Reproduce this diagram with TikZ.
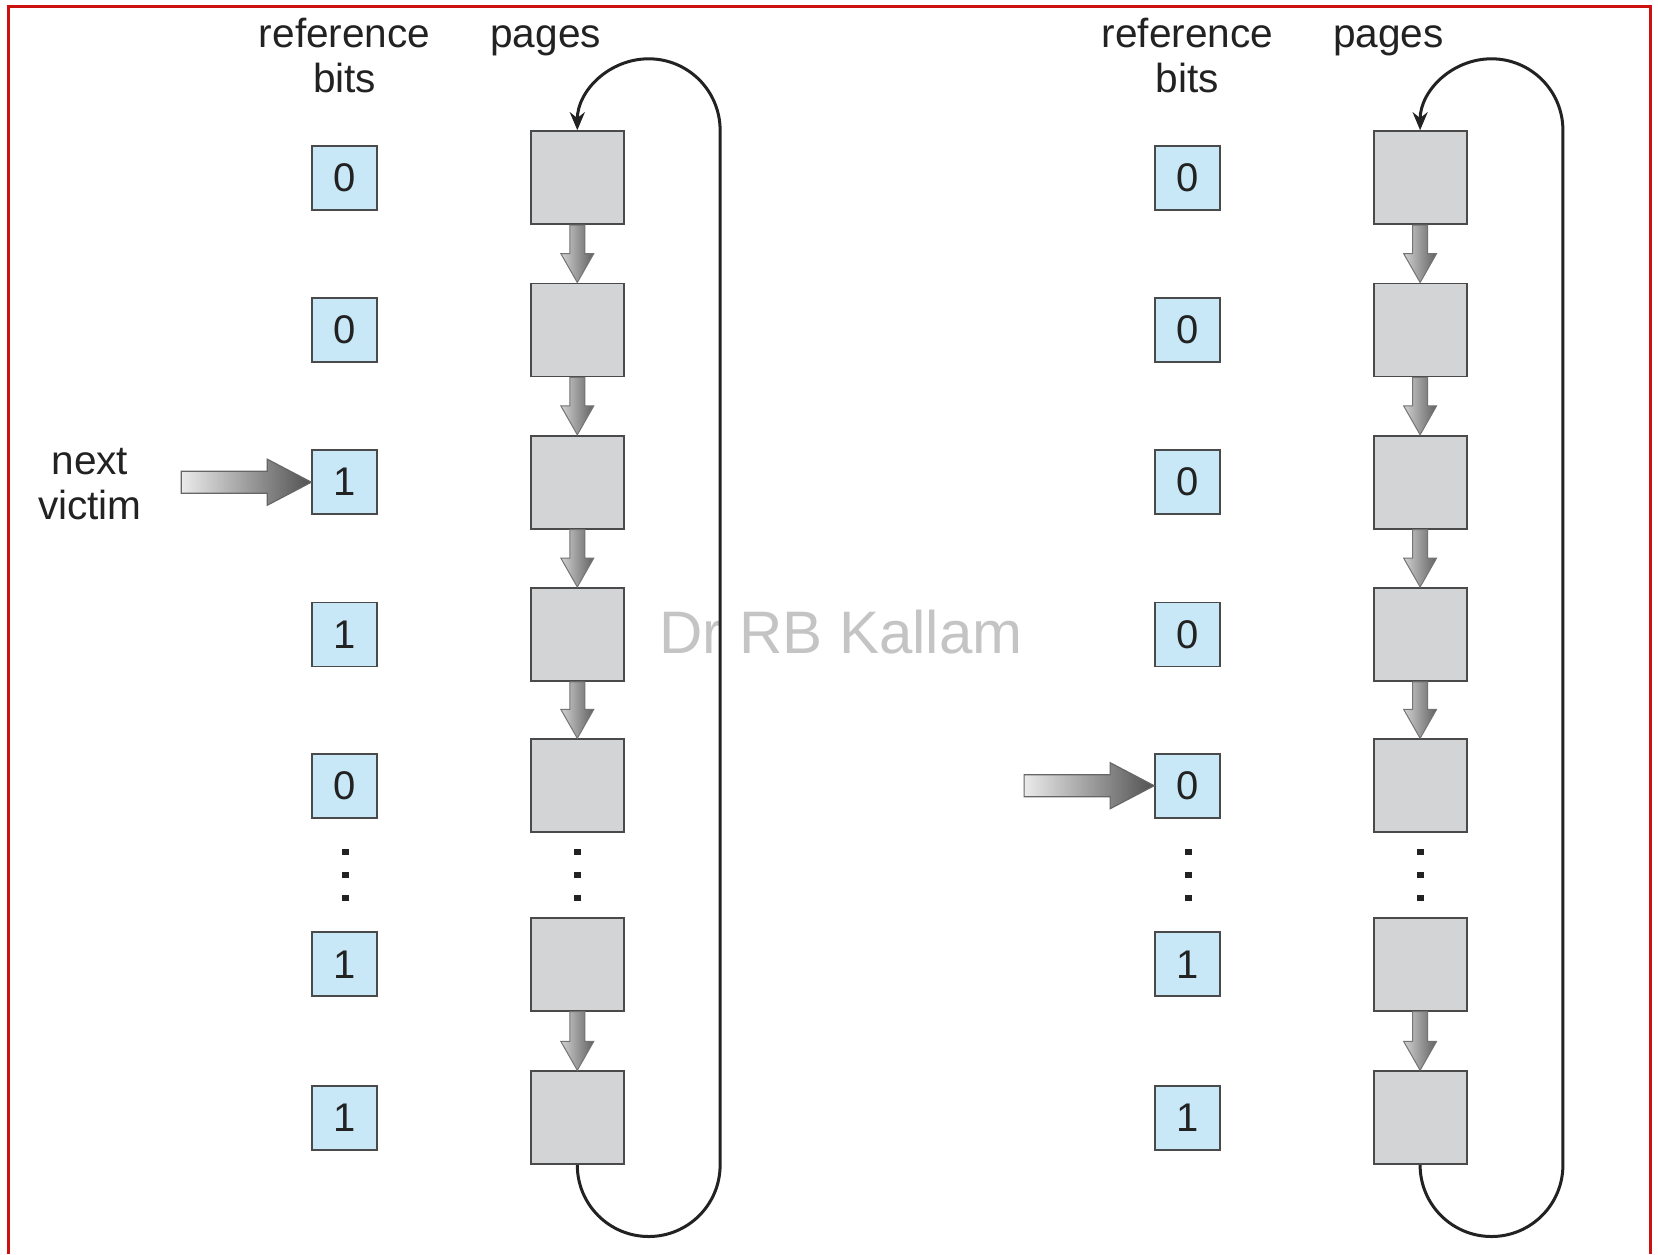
\documentclass[tikz,border=0pt]{standalone}
\usepackage{fontspec}
\setmainfont{Liberation Sans}
\usetikzlibrary{calc,arrows.meta}

\definecolor{bitblue}{HTML}{C8E7F7}
\definecolor{pagegray}{HTML}{D2D4D6}
\definecolor{edgegray}{HTML}{4A4A4A}
\definecolor{framered}{HTML}{CC1111}
\definecolor{markgray}{HTML}{C4C4C4}
\definecolor{inkdark}{HTML}{222222}

\begin{document}
\begin{tikzpicture}[x=0.5pt,y=-0.5pt,
  bitbox/.style={draw=edgegray,fill=bitblue,line width=0.9pt,
    minimum width=32.5pt,minimum height=32pt,inner sep=0pt,
    text=inkdark,font=\fontsize{20}{24}\selectfont},
  pagebox/.style={draw=edgegray,fill=pagegray,line width=0.9pt,
    minimum width=46.5pt,minimum height=46.5pt,inner sep=0pt},
  txt/.style={font=\fontsize{20.3}{22.75}\selectfont,text=inkdark,
    inner sep=0pt,anchor=base},
  dotmark/.style={fill=inkdark,minimum size=3.4pt,inner sep=0pt},
  loopline/.style={draw=inkdark,line width=1.5pt,
    -{Stealth[length=9pt,width=7.5pt]}},
  linkarrow/.style={draw=black!55,line width=0.5pt,
    left color=black!18,right color=black!62},
  victimarrow/.style={draw=black!60,line width=0.6pt,
    left color=black!8,right color=black!68},
]
% canvas and frame
\useasboundingbox (0,0) rectangle (1658,1254);
\fill[white] (0,0) rectangle (1658,1254);
\draw[framered,line width=1.5pt] (8,1254) -- (8,6.5) -- (1650,6.5) -- (1650,1254);

% watermark (under the loop line)
\node[font=\fontsize{30}{36}\selectfont,text=markgray] (mark) at (841,632) {Dr RB Kallam};

% column headings
\foreach \s/\dx in {L/0,R/842.8} {
  \node[txt] (\s ref)   at (344.7+\dx,47)   {reference};
  \node[txt] (\s bits)  at (344.7+\dx,92.5) {bits};
  \node[txt] (\s pages) at (545.6+\dx,47)   {pages};
}

% reference bits and pages, row by row
\foreach \i/\y/\lb/\rb in {1/177.6/0/0, 2/329.9/0/0, 3/482.2/1/0,
                           4/634.4/1/0, 5/785.7/0/0, 6/964.3/1/1, 7/1117.7/1/1} {
  \node[bitbox]  (Lb\i) at (344.7,\y)  {\lb};
  \node[pagebox] (Lp\i) at (577.3,\y)  {};
  \node[bitbox]  (Rb\i) at (1187.5,\y) {\rb};
  \node[pagebox] (Rp\i) at (1420.1,\y) {};
}

% elided rows
\foreach \s/\bx/\px in {L/345.5/577.8, R/1188.3/1420.6} {
  \foreach \k/\y in {1/852,2/875,3/898} {
    \node[dotmark] (\s bd\k) at (\bx,\y) {};
    \node[dotmark] (\s pd\k) at (\px,\y) {};
  }
}

% fat arrows linking consecutive pages
\foreach \s in {L,R} {
  \foreach \i/\j in {1/2,2/3,3/4,4/5,6/7} {
    \path[linkarrow]
      ($(\s p\i.south)+(-7.5,0)$) -- ($(\s p\j.north)+(-7.5,-29)$)
      -- ($(\s p\j.north)+(-16.5,-29)$) -- (\s p\j.north)
      -- ($(\s p\j.north)+(16.5,-29)$) -- ($(\s p\j.north)+(7.5,-29)$)
      -- ($(\s p\i.south)+(7.5,0)$) -- cycle;
  }
}

% circular queue: last page back to the first
\foreach \s in {L,R} {
  \draw[loopline] (\s p7.south)
    arc[start angle=180,end angle=360,radius=35.7pt]
    -- ($(\s p1.north)+(142.8,0)$)
    arc[start angle=0,end angle=180,radius=35.7pt];
}

% next victim pointers
\foreach \t in {Lb3,Rb5} {
  \path[victimarrow]
    ($(\t.west)+(-130,-11)$) -- ($(\t.west)+(-44,-11)$)
    -- ($(\t.west)+(-44,-23)$) -- (\t.west)
    -- ($(\t.west)+(-44,23)$) -- ($(\t.west)+(-44,11)$)
    -- ($(\t.west)+(-130,11)$) -- cycle;
}
\node[txt] (next)   at (89.9,474)   {next};
\node[txt] (victim) at (89.9,519.5) {victim};
\end{tikzpicture}
\end{document}
